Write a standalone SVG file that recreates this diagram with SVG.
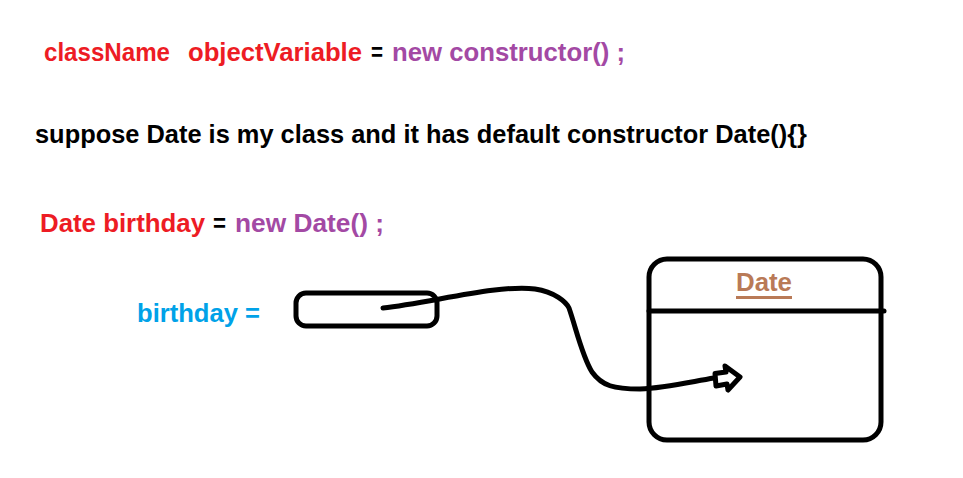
<svg xmlns="http://www.w3.org/2000/svg" width="963" height="478" viewBox="0 0 963 478">
<style>
text{font-family:"Liberation Sans",Arial,sans-serif;font-weight:bold;font-size:26.5px}
.r{fill:#ed1c24}.p{fill:#a349a4}.k{fill:#000}.b{fill:#00a2e8}.d{fill:#b97a57}
.s{fill:none;stroke:#000;stroke-width:5;stroke-linecap:round;stroke-linejoin:round}
</style>
<rect width="963" height="478" fill="#fff"/>
<g id="line1">
<text class="r" x="44" y="61" textLength="126" lengthAdjust="spacingAndGlyphs">className</text>
<text class="r" x="188" y="61" textLength="174" lengthAdjust="spacingAndGlyphs">objectVariable</text>
<text class="k" x="371" y="61" textLength="12" lengthAdjust="spacingAndGlyphs">=</text>
<text class="p" x="392" y="61" textLength="233" lengthAdjust="spacingAndGlyphs">new constructor() ;</text>
</g>
<g id="line2">
<text class="k" x="35" y="143" textLength="772" lengthAdjust="spacingAndGlyphs">suppose Date is my class and it has default constructor Date(){}</text>
</g>
<g id="line3">
<text class="r" x="40" y="232" textLength="165" lengthAdjust="spacingAndGlyphs">Date birthday</text>
<text class="k" x="213" y="232" textLength="13" lengthAdjust="spacingAndGlyphs">=</text>
<text class="p" x="235" y="232" textLength="149" lengthAdjust="spacingAndGlyphs">new Date() ;</text>
</g>
<g id="birthday-label">
<text class="b" x="137" y="322" textLength="123" lengthAdjust="spacingAndGlyphs">birthday =</text>
</g>
<g id="reference-box">
<rect class="s" x="296" y="293" width="141" height="33" rx="10"/>
</g>
<g id="date-object">
<rect class="s" x="649" y="259" width="232" height="181" rx="18"/>
<line class="s" x1="649" y1="311" x2="884" y2="311"/>
<text class="d" x="736" y="291" textLength="56" lengthAdjust="spacingAndGlyphs">Date</text>
<line x1="736" y1="297.5" x2="792" y2="297.5" stroke="#b97a57" stroke-width="3"/>
</g>
<g id="connectors">
<path class="s" d="M383,308 C430,303 500,284 535,289 C555,292 566,302 569,308 C576,328 582,356 592,372 C602,386 614,389 640,389 C665,388 690,382 714,378" stroke-width="4"/>
<path class="s" d="M715,373.5 L726,372 L725,366 L740,377 L728,390 L727,384 L716,386 Z" stroke-width="4.5"/>
</g>
</svg>
